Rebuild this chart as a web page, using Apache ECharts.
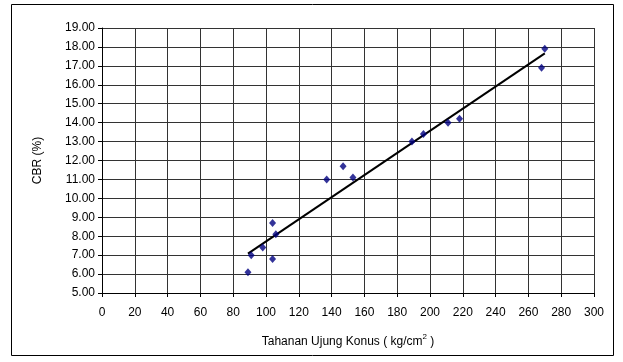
<!DOCTYPE html>
<html>
<head>
<meta charset="utf-8">
<script src="https://cdn.jsdelivr.net/npm/echarts@6/dist/echarts.min.js"></script>
<style>
  html, body { margin: 0; padding: 0; background: #fff; }
  #chart { width: 623px; height: 362px; }
</style>
</head>
<body>
<div id="chart"></div>
<script>
// Cone tip resistance (kg/cm2) against CBR (%)
const tahanan = [89, 91, 98, 104, 104, 106, 137, 147, 153, 189, 196, 211, 218, 268, 270];
const cbr = [6.1, 7.0, 7.4, 6.8, 8.7, 8.1, 11.0, 11.7, 11.1, 13.0, 13.4, 14.0, 14.2, 16.9, 17.9];
const xTicks = [0, 20, 40, 60, 80, 100, 120, 140, 160, 180, 200, 220, 240, 260, 280, 300];
const yTicks = [5, 6, 7, 8, 9, 10, 11, 12, 13, 14, 15, 16, 17, 18, 19];

// Least-squares linear trend through the measured points
function linearFit(xs, ys) {
  const n = xs.length;
  let sx = 0, sy = 0, sxx = 0, sxy = 0;
  for (let i = 0; i < n; i++) {
    sx += xs[i]; sy += ys[i]; sxx += xs[i] * xs[i]; sxy += xs[i] * ys[i];
  }
  const b = (n * sxy - sx * sy) / (n * sxx - sx * sx);
  const a = (sy - b * sx) / n;
  return { a, b };
}
const fit = linearFit(tahanan, cbr);
const xMin = Math.min(...tahanan), xMax = Math.max(...tahanan);
const trend = [[xMin, fit.a + fit.b * xMin], [xMax, fit.a + fit.b * xMax]];

const font = 'Liberation Sans, Arial, sans-serif';
const chart = echarts.init(document.getElementById('chart'), null, { renderer: 'canvas' });
chart.setOption({
  animation: false,
  backgroundColor: '#fff',
  textStyle: { fontFamily: font },
  graphic: [{
    type: 'rect',
    shape: { x: 11.5, y: 4.5, width: 602, height: 351 },
    style: { fill: 'none', stroke: '#000', lineWidth: 1 },
    silent: true
  }],
  grid: { left: 102, top: 28, right: 29, bottom: 69 },
  xAxis: {
    type: 'value',
    min: xTicks[0], max: xTicks[xTicks.length - 1], interval: 20,
    name: '{n|Tahanan Ujung Konus ( kg/cm}{s|2}{n| )}',
    nameLocation: 'middle', nameGap: 40,
    nameTextStyle: {
      rich: {
        n: { fontSize: 12, fontFamily: font, color: '#000' },
        s: { fontSize: 8, fontFamily: font, color: '#000', verticalAlign: 'bottom', padding: [0, 0, 9, 0] }
      }
    },
    axisLine: { show: true, lineStyle: { color: '#000', width: 1 } },
    axisTick: { show: true, length: 4, lineStyle: { color: '#000' } },
    axisLabel: { color: '#000', fontSize: 12, fontFamily: font, margin: 14 },
    splitLine: { show: true, lineStyle: { color: '#333', width: 1 } }
  },
  yAxis: {
    type: 'value',
    min: yTicks[0], max: yTicks[yTicks.length - 1], interval: 1,
    name: 'CBR (%)', nameLocation: 'middle', nameGap: 58, nameRotate: 90,
    nameTextStyle: { color: '#000', fontSize: 12, fontFamily: font },
    axisLine: { show: true, lineStyle: { color: '#000', width: 1 } },
    axisTick: { show: true, length: 4, lineStyle: { color: '#000' } },
    axisLabel: { color: '#000', fontSize: 12, fontFamily: font, margin: 7,
      formatter: v => v.toFixed(2) },
    splitLine: { show: true, lineStyle: { color: '#333', width: 1 } }
  },
  series: [
    {
      type: 'line',
      data: trend,
      showSymbol: false,
      symbol: 'none',
      lineStyle: { color: '#000', width: 2 },
      z: 3
    },
    {
      type: 'scatter',
      data: tahanan.map((x, i) => [x, cbr[i]]),
      symbol: 'diamond',
      symbolSize: [7, 8],
      itemStyle: { color: '#000080' },
      z: 4
    }
  ]
});
</script>
</body>
</html>
